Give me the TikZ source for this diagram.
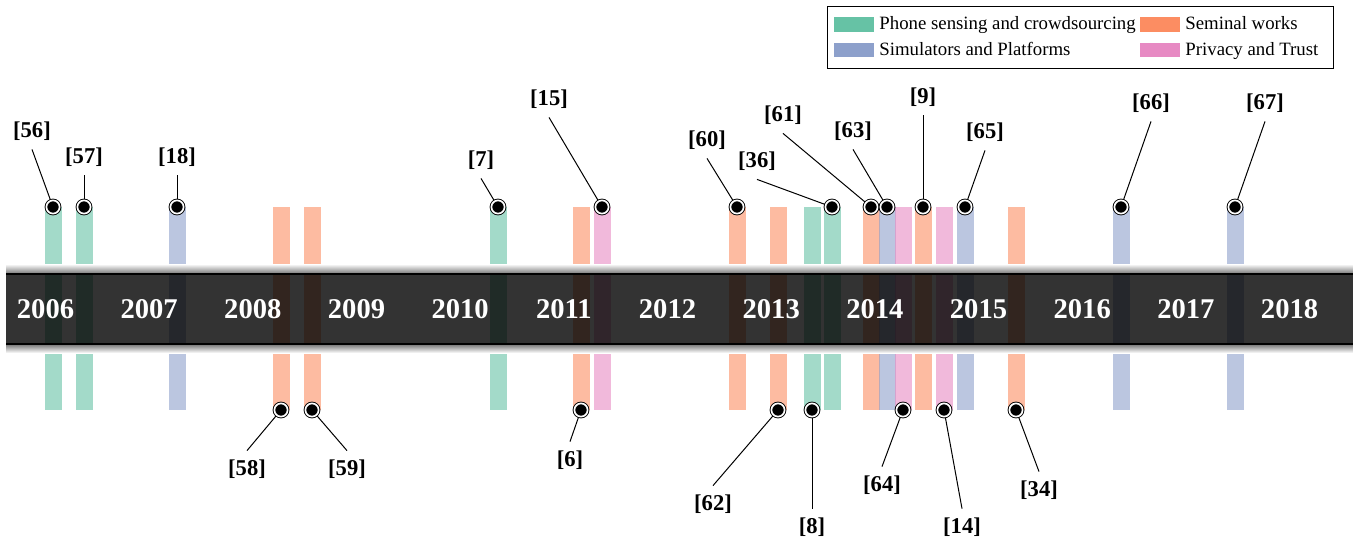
\documentclass[tikz,border=0pt]{standalone}
\usepackage{fontspec}
\setmainfont{Liberation Serif}
\definecolor{cphone}{HTML}{66C2A5}
\definecolor{cseminal}{HTML}{FC8D62}
\definecolor{csim}{HTML}{8DA0CB}
\definecolor{cpriv}{HTML}{E78AC3}
\begin{document}
\begin{tikzpicture}[x=0.5pt,y=-0.5pt,
  bar/.style={draw=none, fill opacity=0.6, minimum width=8.5pt, minimum height=101.5pt, inner sep=0pt, outer sep=0pt},
  marker/.style={circle, fill=black, draw=black, double=white, double distance=0.85pt, line width=0.45pt, minimum size=6.6pt, inner sep=0pt},
  ref/.style={font=\fontsize{11.3}{13}\selectfont\bfseries, minimum height=18pt, inner sep=0pt},
  year/.style={font=\fontsize{14.3}{16}\selectfont\bfseries, text=white, anchor=base, inner sep=0pt},
  leader/.style={draw=black, line width=0.5pt},
  swatch/.style={draw=none, inner sep=0pt, minimum width=20pt, minimum height=7.3pt},
  legtext/.style={font=\fontsize{9.4}{11}\selectfont, anchor=base west, inner sep=0pt},
]
\useasboundingbox (0,0) rectangle (1353,542);

% publication bars
\node[bar, fill=cphone]   (b56) at (53,308.5) {};
\node[bar, fill=cphone]   (b57) at (84,308.5) {};
\node[bar, fill=csim]     (b18) at (177,308.5) {};
\node[bar, fill=cseminal] (b58) at (281,308.5) {};
\node[bar, fill=cseminal] (b59) at (312,308.5) {};
\node[bar, fill=cphone]   (b7)  at (498,308.5) {};
\node[bar, fill=cseminal] (b6)  at (581,308.5) {};
\node[bar, fill=cpriv]    (b15) at (602,308.5) {};
\node[bar, fill=cseminal] (b60) at (737,308.5) {};
\node[bar, fill=cseminal] (b62) at (778,308.5) {};
\node[bar, fill=cphone]   (b8)  at (812,308.5) {};
\node[bar, fill=cphone]   (b36) at (832,308.5) {};
\node[bar, fill=cseminal] (b61) at (871,308.5) {};
\node[bar, fill=csim]     (b63) at (887,308.5) {};
\node[bar, fill=cpriv]    (b64) at (903,308.5) {};
\node[bar, fill=cseminal] (b9)  at (923,308.5) {};
\node[bar, fill=cpriv]    (b14) at (944,308.5) {};
\node[bar, fill=csim]     (b65) at (965,308.5) {};
\node[bar, fill=cseminal] (b34) at (1016,308.5) {};
\node[bar, fill=csim]     (b66) at (1121,308.5) {};
\node[bar, fill=csim]     (b67) at (1235,308.5) {};

% time axis band
\shade[top color=white, bottom color=black!55] (6,264) rectangle (1353,274);
\fill[black, fill opacity=0.8] (6,274) rectangle (1353,344);
\shade[top color=black!55, bottom color=white] (6,344) rectangle (1353,353);
\draw[line width=0.7pt] (6,274) -- (1353,274);
\draw[line width=0.7pt] (6,344) -- (1353,344);

% years
\foreach \yr [count=\i from 0] in {2006,...,2018}{
  \pgfmathsetmacro{\xx}{45.5+103.67*\i}
  \node[year] (y\yr) at (\xx,318) {\yr};
}

% reference labels above the axis
\node[ref] (l56) at (32,131) {[56]};
\node[ref] (l57) at (84,157) {[57]};
\node[ref] (l18) at (177,157) {[18]};
\node[ref] (l7)  at (481,160) {[7]};
\node[ref] (l15) at (549,99) {[15]};
\node[ref] (l60) at (707,140) {[60]};
\node[ref] (l36) at (757,161) {[36]};
\node[ref] (l61) at (783,115) {[61]};
\node[ref] (l63) at (853,131) {[63]};
\node[ref] (l9)  at (923,97) {[9]};
\node[ref] (l65) at (985,132) {[65]};
\node[ref] (l66) at (1151,103) {[66]};
\node[ref] (l67) at (1265,103) {[67]};
% reference labels below the axis
\node[ref] (l58) at (247,469) {[58]};
\node[ref] (l59) at (347,469) {[59]};
\node[ref] (l6)  at (570,460) {[6]};
\node[ref] (l62) at (713,504) {[62]};
\node[ref] (l8)  at (812,527) {[8]};
\node[ref] (l64) at (882,485) {[64]};
\node[ref] (l14) at (962,527) {[14]};
\node[ref] (l34) at (1039,490) {[34]};

% leader lines and markers
\foreach \r in {56,57,18,7,15,60,36,61,63,9,65,66,67}{
  \draw[leader] (l\r.south) -- (b\r.north);
  \node[marker] (m\r) at (b\r.north) {};
}
\foreach \r in {58,59,6,62,8,64,14,34}{
  \draw[leader] (l\r.north) -- (b\r.south);
  \node[marker] (m\r) at (b\r.south) {};
}

% legend
\draw[line width=0.5pt] (827,6) rectangle (1333,68);
\node[swatch, fill=cphone]   (s1) at (854,24.5) {};
\node[swatch, fill=cseminal] (s2) at (1159.5,24.5) {};
\node[swatch, fill=csim]     (s3) at (854,50) {};
\node[swatch, fill=cpriv]    (s4) at (1159.5,50) {};
\node[legtext] (t1) at (879,29.5) {Phone sensing and crowdsourcing};
\node[legtext] (t2) at (1185,29.5) {Seminal works};
\node[legtext] (t3) at (879,55) {Simulators and Platforms};
\node[legtext] (t4) at (1185,55) {Privacy and Trust};
\end{tikzpicture}
\end{document}
